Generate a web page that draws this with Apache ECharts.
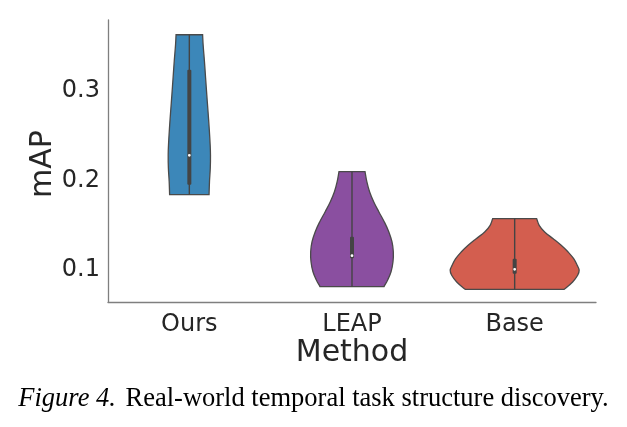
<!DOCTYPE html>
<html><head><meta charset="utf-8">
<script src="https://cdn.jsdelivr.net/npm/echarts@6/dist/echarts.min.js"></script>
<style>html,body{margin:0;padding:0;background:#fff}#c{width:627px;height:427px}</style>
</head><body><div id="c"></div>
<script>
// ---- data ----
const categories = ['Ours', 'LEAP', 'Base'];
const yTicks = [0.1, 0.2, 0.3];

// violin outlines: values (top to bottom) and relative density (half width)
const oursY    = [0.3630, 0.3518, 0.3333, 0.3146, 0.2959, 0.2773, 0.2586, 0.2399, 0.2287, 0.2138, 0.1989, 0.1839];
const oursDens = [0.204, 0.212, 0.232, 0.250, 0.268, 0.287, 0.305, 0.320, 0.325, 0.322, 0.310, 0.303];
const leapY    = [0.2096, 0.1984, 0.1872, 0.1760, 0.1648, 0.1536, 0.1424, 0.1312, 0.1200, 0.1088, 0.0976, 0.0884, 0.0809];
const leapDens = [0.200, 0.228, 0.270, 0.333, 0.412, 0.495, 0.565, 0.614, 0.635, 0.630, 0.600, 0.548, 0.492];
const baseY    = [0.1570, 0.1496, 0.1421, 0.1346, 0.1272, 0.1197, 0.1122, 0.1048, 0.0992, 0.0936, 0.0861, 0.0779];
const baseDens = [0.338, 0.377, 0.461, 0.592, 0.715, 0.822, 0.907, 0.961, 0.991, 0.968, 0.891, 0.761];

// inner box statistics
const q1Values     = [0.1951, 0.1127, 0.0954];
const q3Values     = [0.3239, 0.1368, 0.1122];
const medianValues = [0.2280, 0.1156, 0.1003];

const profileY = [oursY, leapY, baseY];
const profileD = [oursDens, leapDens, baseDens];
const fillColors = ['#3c87b9', '#8a4fa0', '#d35e4f'];

const chart = echarts.init(document.getElementById('c'), null, {renderer: 'canvas'});
const txt = '#262626';
const axisGray = '#7f7f7f';

chart.setOption({
  animation: false,
  backgroundColor: '#ffffff',
  grid: {left: 108, right: 31, top: 20, bottom: 125, containLabel: false, outerBoundsMode: 'none'},
  xAxis: {
    type: 'category',
    data: categories,
    boundaryGap: true,
    axisLine: {show: true, lineStyle: {color: axisGray, width: 1.3}},
    axisTick: {show: false},
    axisLabel: {color: txt, fontFamily: 'DejaVu Sans', fontSize: 24, margin: 11},
    name: 'Method',
    nameLocation: 'middle',
    nameGap: 36,
    nameMoveOverlap: false,
    nameTextStyle: {color: txt, fontFamily: 'DejaVu Sans', fontSize: 30}
  },
  yAxis: {
    type: 'value',
    min: 0.0637,
    max: 0.3795,
    splitLine: {show: false},
    axisLine: {show: true, lineStyle: {color: axisGray, width: 1.3}},
    axisTick: {show: false},
    axisLabel: {
      color: txt, fontFamily: 'DejaVu Sans', fontSize: 24, margin: 8,
      customValues: yTicks,
      formatter: v => v.toFixed(1)
    },
    name: 'mAP',
    nameLocation: 'middle',
    nameRotate: 90,
    nameGap: 50,
    nameMoveOverlap: false,
    nameTextStyle: {color: txt, fontFamily: 'DejaVu Sans', fontSize: 30, padding: [0, 6, 0, 0]}
  },
  series: [{
    type: 'custom',
    coordinateSystem: 'cartesian2d',
    data: categories.map((c, i) => [i, medianValues[i]]),
    encode: {x: 0, y: 1},
    renderItem: function (params, api) {
      const i = api.value(0);
      const ys = profileY[i], ds = profileD[i];
      const band = api.size([1, 0])[0];
      const scale = 0.4 * band;
      const cx = api.coord([i, ys[0]])[0];
      const R = [], L = [];
      for (let k = 0; k < ys.length; k++) {
        const py = api.coord([i, ys[k]])[1];
        R.push([cx + ds[k] * scale, py]);
        L.push([cx - ds[k] * scale, py]);
      }
      const n = ys.length - 1;
      const pts = [R[0]];
      for (let k = 0; k <= n; k++) pts.push(R[k]);
      pts.push(R[n]);
      pts.push(L[n]);
      for (let k = n; k >= 0; k--) pts.push(L[k]);
      pts.push(L[0]);
      const top = api.coord([i, ys[0]])[1];
      const bot = api.coord([i, ys[n]])[1];
      const q3 = api.coord([i, q3Values[i]])[1];
      const q1 = api.coord([i, q1Values[i]])[1];
      const med = api.coord([i, medianValues[i]])[1];
      return {
        type: 'group',
        children: [
          {type: 'polygon', shape: {points: pts, smooth: 0.4},
           style: {fill: fillColors[i], stroke: '#4a4a4a', lineWidth: 1.3}},
          {type: 'line', shape: {x1: cx, y1: top, x2: cx, y2: bot},
           style: {stroke: '#444444', lineWidth: 1.4}},
          {type: 'rect', shape: {x: cx - 2, y: q3, width: 4, height: q1 - q3, r: 1},
           style: {fill: '#444444'}},
          {type: 'circle', shape: {cx: cx, cy: med, r: 1.4},
           style: {fill: '#ffffff'}}
        ]
      };
    }
  }],
  graphic: [{
    type: 'text',
    x: 313.5,
    y: 399,
    style: {
      text: '{i|Figure 4.} Real-world temporal task structure discovery.',
      fontFamily: 'Liberation Serif',
      fontSize: 26.5,
      fill: '#000000',
      align: 'center',
      verticalAlign: 'middle',
      rich: {i: {fontStyle: 'italic', fontFamily: 'Liberation Serif', fontSize: 26.5, fill: '#000000', padding: [0, 3, 0, 0]}}
    }
  }]
});
</script>
</body></html>
